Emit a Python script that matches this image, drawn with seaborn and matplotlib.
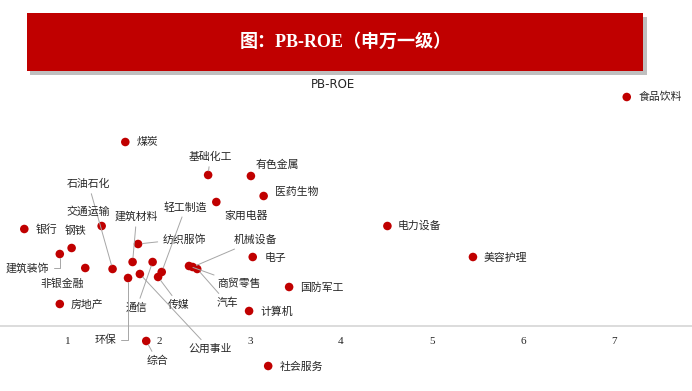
import matplotlib
matplotlib.use("Agg")
import matplotlib.pyplot as plt
from matplotlib.patches import Rectangle
import seaborn as sns
import pandas as pd

# PB (x) and ROE % (y) by Shenwan level-1 industry
industries = ["食品饮料", "煤炭", "基础化工", "有色金属", "医药生物", "家用电器",
              "电力设备", "美容护理", "银行", "钢铁", "建筑装饰", "非银金融",
              "房地产", "石油石化", "交通运输", "建筑材料", "纺织服饰", "轻工制造",
              "通信", "环保", "公用事业", "传媒", "综合", "商贸零售", "机械设备",
              "汽车", "电子", "国防军工", "计算机", "社会服务"]
pb = [7.14, 1.63, 2.54, 3.01, 3.15, 2.63,
      4.51, 5.45, 0.52, 1.04, 0.91, 1.19,
      0.91, 1.49, 1.37, 1.71, 1.77, 2.03,
      1.93, 1.66, 1.79, 1.99, 1.86, 2.33, 2.37,
      2.42, 3.03, 3.43, 2.99, 3.20]
roe = [22.9, 18.4, 15.1, 15.0, 13.0, 12.4,
       10.0, 6.9, 9.7, 7.8, 7.2, 5.8,
       2.2, 5.7, 10.0, 6.4, 8.2, 5.4,
       6.4, 4.8, 5.2, 4.9, -1.5, 6.0, 5.9,
       5.7, 6.9, 3.9, 1.5, -4.0]
x_ticks = [1, 2, 3, 4, 5, 6, 7]

# label placement: offset of label centre from point (pixels), connector style
label_pos = {
    "食品饮料": (34, 0, None), "煤炭": (22, 0, None), "基础化工": (2, 18, "line"),
    "有色金属": (26, 11, None), "医药生物": (33, 4, None), "家用电器": (30, -14, None),
    "电力设备": (32, 0, None), "美容护理": (32, -1, None), "银行": (22, -1, None),
    "钢铁": (4, 17, None), "建筑装饰": (-32, -14, "elbow"), "非银金融": (-23, -16, None),
    "房地产": (27, -1, None), "石油石化": (-24, 85, "line"), "交通运输": (-13, 14, None),
    "建筑材料": (4, 45, "line"), "纺织服饰": (46, 5, "line"), "轻工制造": (24, 65, "line"),
    "通信": (-16, -46, "line"), "环保": (-23, -62, "elbow"), "公用事业": (70, -75, "line"),
    "传媒": (21, -28, "line"), "综合": (11, -20, "line"), "商贸零售": (50, -18, "line"),
    "机械设备": (63, 27, "line"), "汽车": (30, -34, "line"), "电子": (23, -1, None),
    "国防军工": (33, -1, None), "计算机": (28, -1, None), "社会服务": (33, -1, None),
}

RED = "#C00000"
TXT = "#262626"

sns.set_theme(style="white")
plt.rcParams["font.family"] = ["Noto Sans CJK SC", "DejaVu Sans"]

df = pd.DataFrame({"industry": industries, "PB": pb, "ROE": roe})

fig = plt.figure(figsize=(6.92, 3.91), dpi=100)
ax = fig.add_axes([0, 0, 1, 1])
ax.set_facecolor("white")

sns.scatterplot(data=df, x="PB", y="ROE", color=RED, s=38, edgecolor="none",
                ax=ax, zorder=3, legend=False)

for name, x, y in zip(industries, pb, roe):
    dx, dy, conn = label_pos[name]
    arrow = None
    if conn:
        arrow = dict(arrowstyle="-", color="#a6a6a6", lw=0.7, shrinkA=1, shrinkB=3)
        if conn == "elbow":
            arrow["connectionstyle"] = "angle,angleA=0,angleB=90,rad=0"
    ax.annotate(name, (x, y), xytext=(dx, dy), textcoords="offset pixels",
                ha="center", va="center", fontsize=7.8, color=TXT,
                arrowprops=arrow, zorder=4)

ax.set_xlim(0.253, 7.857)
ax.set_ylim(-6.5, 32.6)
for s in ["top", "right", "left"]:
    ax.spines[s].set_visible(False)
ax.spines["bottom"].set_position(("data", 0))
ax.spines["bottom"].set_color("#d9d9d9")
ax.spines["bottom"].set_linewidth(1.3)
ax.set_xticks(x_ticks)
ax.set_xticklabels([str(t) for t in x_ticks], fontfamily="Liberation Serif",
                   fontsize=8, color=TXT)
ax.tick_params(axis="x", length=0, pad=8)
ax.set_yticks([])
ax.set_xlabel("")
ax.set_ylabel("")

# chart subtitle
fig.text(333 / 692, 1 - 84 / 391, "PB-ROE", ha="center", va="center",
         fontsize=8.5, color=TXT, family=["DejaVu Sans"])

# red title banner with shadow
fig.patches.append(Rectangle((30 / 692, 1 - 75 / 391), 617 / 692, 58 / 391,
                             transform=fig.transFigure, facecolor="#bfbfbf",
                             edgecolor="none", zorder=5))
fig.patches.append(Rectangle((27 / 692, 1 - 71 / 391), 616 / 692, 58 / 391,
                             transform=fig.transFigure, facecolor=RED,
                             edgecolor="none", zorder=6))
fig.text(346 / 692, 1 - 42 / 391, "图：PB-ROE（申万一级）", ha="center", va="center",
         fontsize=13, fontweight="bold", color="white", zorder=7,
         family=["Liberation Serif", "Noto Sans CJK SC"])

fig.savefig("out.png", dpi=100, facecolor="white")
